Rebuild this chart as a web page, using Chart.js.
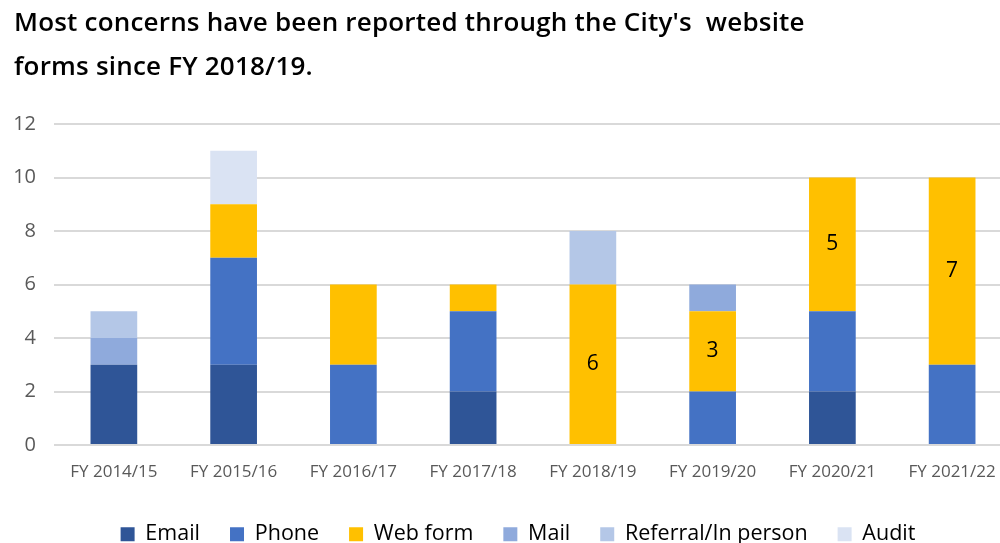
<!DOCTYPE html>
<html><head><meta charset="utf-8">
<script src="https://cdn.jsdelivr.net/npm/chart.js@4"></script>
<style>
html,body{margin:0;padding:0;background:#fff;overflow:hidden;width:1000px;height:543px;}
#title{position:absolute;left:14px;top:-1px;font-family:"Open Sans";font-weight:600;font-size:26px;line-height:44px;color:#000;letter-spacing:0.2px;white-space:nowrap;}
#wrap{position:absolute;left:0;top:0;width:1012px;height:555px;}
</style></head><body>
<div id="wrap"><canvas id="c" width="1012" height="555"></canvas></div>
<div id="title">Most concerns have been reported through the City's&nbsp; website<br>forms since FY 2018/19.</div>
<script>
const categories = ["FY 2014/15","FY 2015/16","FY 2016/17","FY 2017/18","FY 2018/19","FY 2019/20","FY 2020/21","FY 2021/22"];
const email    = [3,3,0,2,0,0,2,0];
const phone    = [0,4,3,3,0,2,3,3];
const webForm  = [0,2,3,1,6,3,5,7];
const mail     = [1,0,0,0,0,1,0,0];
const referral = [1,0,0,0,2,0,0,0];
const audit    = [0,2,0,0,0,0,0,0];
const webLabelShown = [false,false,false,false,true,true,true,true];
const yTicks = [0,2,4,6,8,10,12];

const labelPlugin = {
  id:'webLabels',
  afterDatasetsDraw(chart){
    const ctx = chart.ctx;
    const meta = chart.getDatasetMeta(2);
    ctx.save();
    ctx.font = '21px "Open Sans"';
    ctx.fillStyle = '#000';
    ctx.textAlign = 'center';
    ctx.textBaseline = 'middle';
    meta.data.forEach((el,i)=>{
      if(!webLabelShown[i]) return;
      const y = (el.y + el.base)/2;
      ctx.fillText(String(webForm[i]), el.x, y);
    });
    ctx.restore();
  }
};
const legendShift = {
  id:'legendShift',
  afterLayout(chart){
    const l = chart.legend;
    if(l){ l.left += 12; l.right += 12; }
  }
};

const mk = (label,data,color)=>({label,data,backgroundColor:color,borderWidth:0,categoryPercentage:1,barPercentage:0.39});
new Chart(document.getElementById('c'),{
  type:'bar',
  data:{labels:categories,datasets:[
    mk('Email',email,'#2F5597'),
    mk('Phone',phone,'#4472C4'),
    mk('Web form',webForm,'#FFC000'),
    mk('Mail',mail,'#8FAADC'),
    mk('Referral/In person',referral,'#B4C7E7'),
    mk('Audit',audit,'#DAE3F3')
  ]},
  options:{
    responsive:false,animation:false,
    layout:{padding:{top:124,left:0,right:0,bottom:0}},
    plugins:{
      legend:{position:'bottom',labels:{boxWidth:14,boxHeight:14,padding:30,color:'#000',font:{family:'"Open Sans"',size:21.5}}},
      tooltip:{enabled:false}
    },
    scales:{
      x:{stacked:true,grid:{display:false},border:{display:false},
         afterFit(s){s.height+=2;},
         ticks:{color:'#595959',font:{family:'"Open Sans"',size:17},padding:9,maxRotation:0}},
      y:{stacked:true,min:0,max:12,
         afterBuildTicks(s){s.ticks=yTicks.map(v=>({value:v}));},
         afterFit(s){s.width=54;},
         grid:{color:'#d9d9d9',lineWidth:2,drawTicks:false},border:{display:false},
         ticks:{color:'#595959',font:{family:'"Open Sans"',size:20},padding:18}}
    }
  },
  plugins:[labelPlugin, legendShift]
});
</script></body></html>
